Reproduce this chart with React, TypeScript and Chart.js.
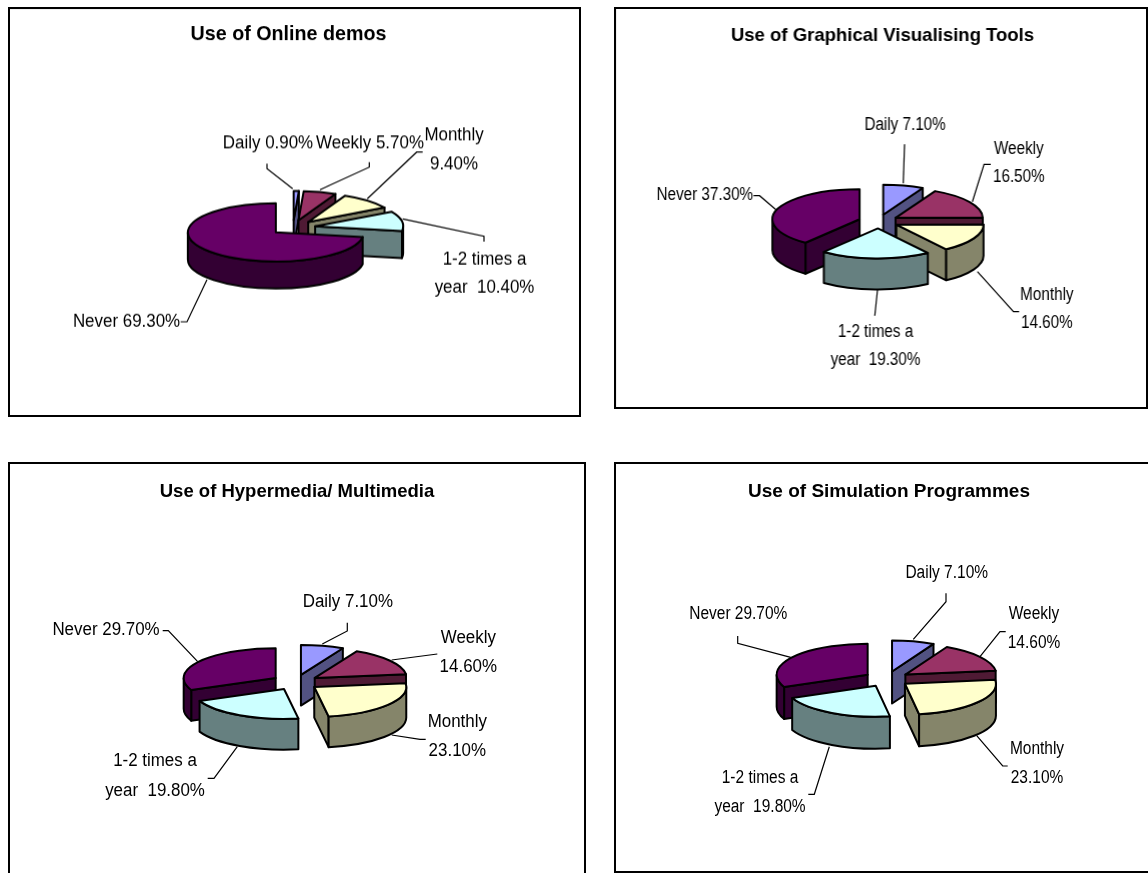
import React, { useEffect, useRef } from "react";
import { Chart, registerables } from "chart.js";

Chart.register(...registerables);

// ---------- data ----------
const categories = ["Daily", "Weekly", "Monthly", "1-2 times a year", "Never"];
const onlineDemos = [0.9, 5.7, 9.4, 10.4, 69.3];
const graphicalTools = [7.1, 16.5, 14.6, 19.3, 37.3];
const hypermedia = [7.1, 14.6, 23.1, 19.8, 29.7];
const simulation = [7.1, 14.6, 23.1, 19.8, 29.7];
const titles = [
  "Use of Online demos",
  "Use of Graphical Visualising Tools",
  "Use of Hypermedia/ Multimedia",
  "Use of Simulation Programmes",
];

// ---------- styles ----------
const topColors = ["#9999FF", "#993366", "#FFFFCC", "#CCFFFF", "#660066"];
const wallColors = ["#525282", "#4F1A34", "#85856A", "#668080", "#330033"];
const FONT = '"Liberation Sans", Arial, sans-serif';

// ---------- layout, in page pixels ----------
type Pt = [number, number];
type Lab = { x: number; ys: number[]; leader: Pt[] };
type Panel = {
  box: [number, number, number, number];
  title: { size: number; y: number; shift: number };
  pie: { cx: number; cy: number; r: number; k: number; d: number; depth: number };
  font: { size: number; sx: number };
  labels: Lab[];
};

const panels: Panel[] = [
  {
    box: [8, 7, 573, 409.5],
    title: { size: 19.7, y: 35, shift: -6 },
    pie: { cx: 293, cy: 227, r: 88, k: 0.33, d: 22.5, depth: 27 },
    font: { size: 18, sx: 0.94 },
    labels: [
      { x: 268, ys: [143], leader: [[267, 163.3], [267, 168.3], [292.7, 188.3]] },
      { x: 370, ys: [143], leader: [[369.3, 161.7], [369.3, 166.7], [320, 189.3]] },
      { x: 454, ys: [135, 164], leader: [[422.7, 151.7], [416.7, 151.7], [367.3, 198.3]] },
      { x: 484.5, ys: [259, 287], leader: [[484, 241], [484, 235.7], [402.7, 218.3]] },
      { x: 126.5, ys: [321], leader: [[180.7, 321], [187, 321], [207, 279]] },
    ],
  },
  {
    box: [614, 7, 533.5, 402],
    title: { size: 18.5, y: 36, shift: 1.5 },
    pie: { cx: 878, cy: 221.5, r: 87, k: 0.345, d: 20, depth: 31 },
    font: { size: 18, sx: 0.845 },
    labels: [
      { x: 904.5, ys: [125], leader: [[904, 144.3], [902.7, 183.3]] },
      { x: 1018, ys: [149, 177], leader: [[990, 164.3], [983.3, 164.3], [971.7, 201.7]] },
      { x: 1046, ys: [295, 322.7], leader: [[1018.3, 311.7], [1012.7, 311.7], [976.7, 271.7]] },
      { x: 875, ys: [332.3, 360], leader: [[874.3, 315.7], [877, 290]] },
      { x: 704.7, ys: [195], leader: [[753.3, 195.7], [759.3, 195.7], [776, 210]] },
    ],
  },
  {
    box: [8, 462, 578, 430],
    title: { size: 18.5, y: 492, shift: 0 },
    pie: { cx: 295.4, cy: 682.3, r: 92, k: 0.325, d: 23.6, depth: 30.7 },
    font: { size: 18, sx: 0.94 },
    labels: [
      { x: 347.8, ys: [601.7], leader: [[347.3, 622.7], [347.3, 631], [322.3, 644]] },
      { x: 468.3, ys: [637.7, 666.7], leader: [[437.3, 654], [391.7, 660]] },
      { x: 457.3, ys: [721.7, 751], leader: [[425.7, 739.3], [420, 739.3], [391.7, 735]] },
      { x: 155, ys: [761, 790.7], leader: [[207.7, 778.3], [214, 778.3], [237.3, 746.7]] },
      { x: 106, ys: [630], leader: [[162.7, 630.7], [168.3, 630.7], [197.7, 661.7]] },
    ],
  },
  {
    box: [614, 462, 550, 411],
    title: { size: 19, y: 492, shift: 0 },
    pie: { cx: 886.7, cy: 679, r: 91, k: 0.34, d: 22.8, depth: 32 },
    font: { size: 18, sx: 0.86 },
    labels: [
      { x: 946.7, ys: [573.3], leader: [[946, 593.3], [946, 601.7], [913.3, 639.3]] },
      { x: 1034, ys: [614.3, 643.3], leader: [[1005.7, 631.7], [1000, 631.7], [980, 656.7]] },
      { x: 1037, ys: [749, 778.3], leader: [[1007.7, 766], [1002.7, 766], [976.7, 735.7]] },
      { x: 760, ys: [778.3, 807.3], leader: [[808.3, 794.3], [814.3, 794.3], [829.3, 746.7]] },
      { x: 738.3, ys: [614.3], leader: [[737.7, 636], [737.7, 643.3], [790.7, 657.3]] },
    ],
  },
];

const pct = (v: number) => `${v.toFixed(2)}%`;
function labelLines(cat: string, v: number, rows: number): string[] {
  if (cat === "1-2 times a year") return ["1-2 times a", `year  ${pct(v)}`];
  return rows === 2 ? [cat, pct(v)] : [`${cat} ${pct(v)}`];
}

const EDGE = 2;

const pie3d = {
  id: "pie3d",
  beforeDraw(chart: any) {
    const { ctx, width, height } = chart;
    ctx.save();
    ctx.fillStyle = "#fff";
    ctx.fillRect(0, 0, width, height);
    ctx.strokeStyle = "#000";
    ctx.lineWidth = 2;
    ctx.strokeRect(1, 1, width - 2, height - 2);
    ctx.restore();
  },
  beforeDatasetsDraw(chart: any, _a: any, opts: any) {
    const p: Panel = opts.panel;
    const { ctx } = chart;
    const [ox, oy] = p.box;
    const { cx, cy, r, k, d, depth } = p.pie;
    const arcs = chart.getDatasetMeta(0).data as any[];
    const walls: string[] = chart.data.datasets[0].wallColors;
    const order = arcs
      .map((arc, i) => ({ arc, i, mid: (arc.startAngle + arc.endAngle) / 2 }))
      .sort((a, b) => Math.sin(a.mid) - Math.sin(b.mid));

    ctx.save();
    ctx.translate(-ox, -oy);
    ctx.lineJoin = "round";
    for (const { arc, i, mid } of order) {
      const s = arc.startAngle;
      const e = arc.endAngle;
      const ax = cx + d * Math.cos(mid);
      const ay = cy + k * d * Math.sin(mid);
      const rim = (a: number): Pt => [ax + r * Math.cos(a), ay + k * r * Math.sin(a)];
      ctx.strokeStyle = "#000";
      ctx.lineWidth = EDGE;
      ctx.fillStyle = walls[i];

      const face = (a: number) => {
        const q = rim(a);
        ctx.beginPath();
        ctx.moveTo(ax, ay);
        ctx.lineTo(q[0], q[1]);
        ctx.lineTo(q[0], q[1] + depth);
        ctx.lineTo(ax, ay + depth);
        ctx.closePath();
        ctx.fill();
        ctx.stroke();
      };
      if (Math.cos(s) < -1e-6) face(s);
      if (Math.cos(e) > 1e-6) face(e);
      const a0 = Math.max(s, 0);
      const a1 = Math.min(e, Math.PI);
      if (a1 > a0) {
        ctx.beginPath();
        ctx.ellipse(ax, ay, r, k * r, 0, a0, a1);
        ctx.ellipse(ax, ay + depth, r, k * r, 0, a1, a0, true);
        ctx.closePath();
        ctx.fill();
        ctx.stroke();
      }

      // top face: the library's own arc, squashed into perspective
      ctx.save();
      ctx.translate(ax, ay);
      ctx.scale(1, k);
      ctx.translate(-arc.x, -arc.y);
      arc.draw(ctx);
      ctx.restore();

      const q = rim(s);
      ctx.beginPath();
      ctx.moveTo(ax, ay);
      ctx.lineTo(q[0], q[1]);
      ctx.ellipse(ax, ay, r, k * r, 0, s, e);
      ctx.closePath();
      ctx.stroke();
    }
    ctx.restore();
    return false;
  },
  afterDraw(chart: any, _a: any, opts: any) {
    const p: Panel = opts.panel;
    const { ctx } = chart;
    const vals: number[] = chart.data.datasets[0].data;
    ctx.save();
    ctx.translate(-p.box[0], -p.box[1]);
    ctx.strokeStyle = "#000";
    ctx.lineWidth = 1.2;
    ctx.fillStyle = "#000";
    ctx.textAlign = "center";
    ctx.textBaseline = "middle";
    ctx.font = `${p.font.size}px ${FONT}`;
    p.labels.forEach((lab, i) => {
      ctx.beginPath();
      lab.leader.forEach(([x, y], j) => (j ? ctx.lineTo(x, y) : ctx.moveTo(x, y)));
      ctx.stroke();
      const lines = labelLines(chart.data.labels[i], vals[i], lab.ys.length);
      lines.forEach((line, j) => {
        ctx.save();
        ctx.translate(lab.x, lab.ys[j]);
        ctx.scale(p.font.sx, 1);
        ctx.fillText(line, 0, 0);
        ctx.restore();
      });
    });
    ctx.restore();
  },
};

function Pie({ panel, values, title }: { panel: Panel; values: number[]; title: string }) {
  const ref = useRef<HTMLCanvasElement>(null);
  useEffect(() => {
    const y = panel.box[1];
    const off = panel.title.shift * 2;
    const chart = new Chart(ref.current as HTMLCanvasElement, {
      type: "pie",
      data: {
        labels: categories,
        datasets: [
          {
            data: values,
            backgroundColor: topColors,
            borderWidth: 0,
            wallColors,
          } as any,
        ],
      },
      options: {
        responsive: false,
        animation: false,
        radius: panel.pie.r,
        layout: { padding: { left: off > 0 ? off : 0, right: off < 0 ? -off : 0 } },
        plugins: {
          legend: { display: false },
          tooltip: { enabled: false },
          title: {
            display: true,
            text: title,
            color: "#000",
            font: { family: FONT, size: panel.title.size, weight: "bold", lineHeight: 1.2 },
            padding: { top: panel.title.y - y - panel.title.size * 0.6, bottom: 4 },
          },
          pie3d: { panel },
        },
      } as any,
      plugins: [pie3d as any],
    });
    return () => chart.destroy();
  }, [panel, values, title]);
  const [x, y, w, h] = panel.box;
  return (
    <canvas
      ref={ref}
      width={w}
      height={h}
      style={{ position: "absolute", left: x, top: y, width: w, height: h, display: "block" }}
    />
  );
}

const series = [onlineDemos, graphicalTools, hypermedia, simulation];

export default function App() {
  return (
    <div style={{ position: "absolute", left: 0, top: 0, width: 1148, height: 873, overflow: "hidden", background: "#fff" }}>
      {panels.map((p, i) => (
        <Pie key={i} panel={p} values={series[i]} title={titles[i]} />
      ))}
    </div>
  );
}
